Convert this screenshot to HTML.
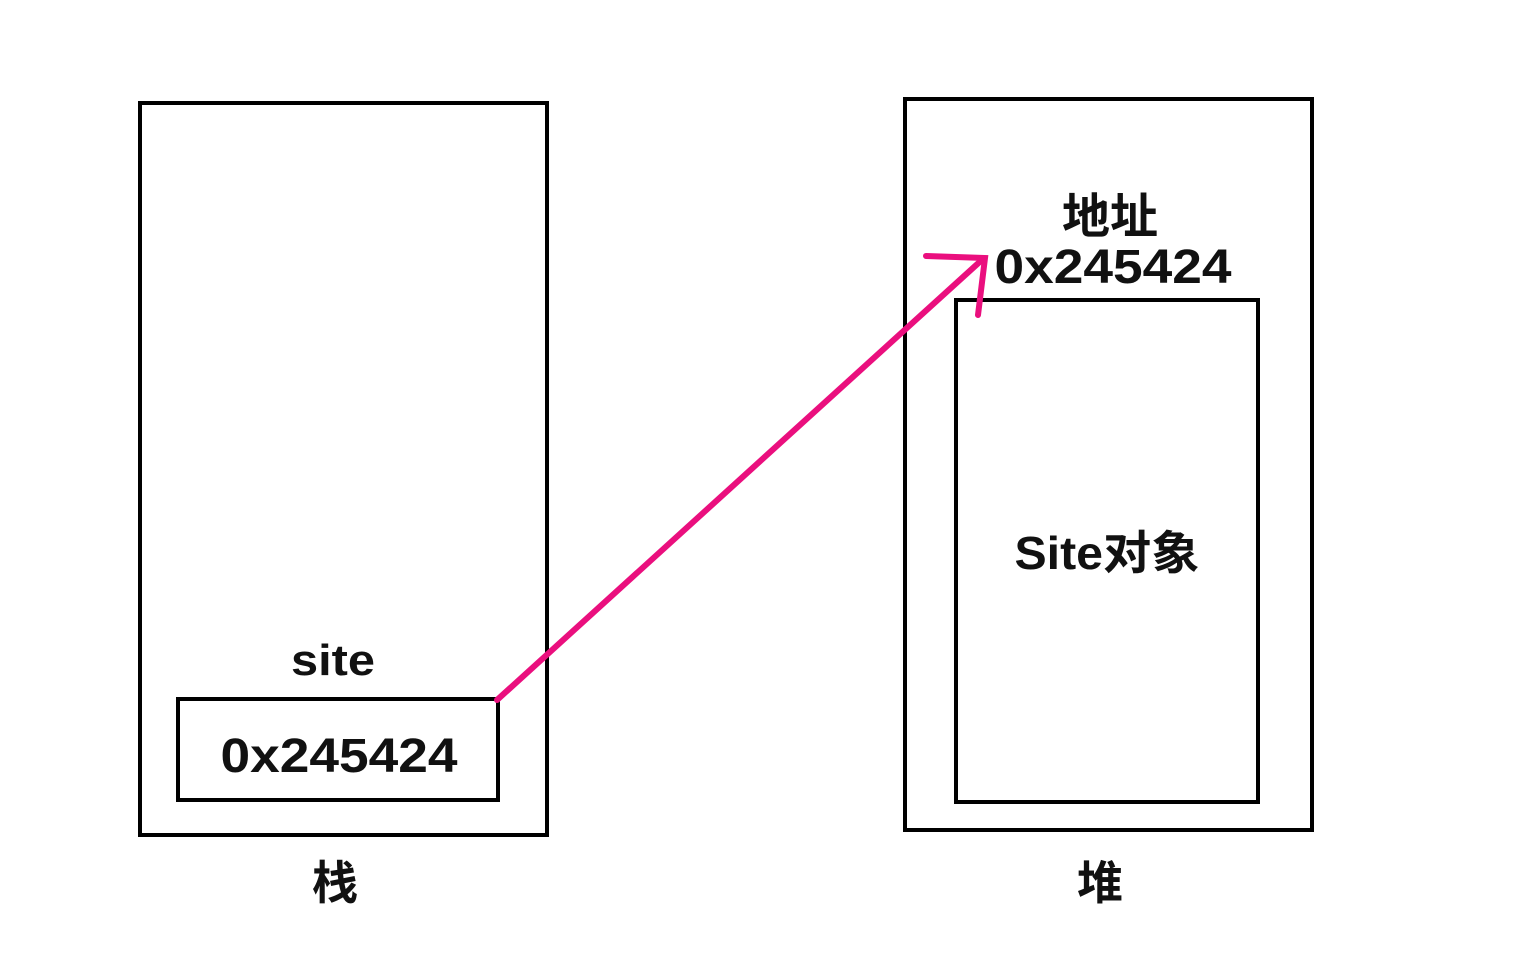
<!DOCTYPE html>
<html><head><meta charset="utf-8"><style>
body{margin:0;width:1536px;height:960px;background:#fff;overflow:hidden}
svg text{font-family:"Liberation Sans","Noto Sans CJK SC",sans-serif;font-weight:bold;fill:#111;text-anchor:middle}
</style></head><body>
<svg width="1536" height="960" xmlns="http://www.w3.org/2000/svg">
<g fill="none" stroke="#000" stroke-width="4">
<rect x="140" y="103" width="407" height="732"/>
<rect x="178" y="699" width="320" height="101"/>
<rect x="905" y="99" width="407" height="731"/>
<rect x="956" y="300" width="302" height="502"/>
</g>
<g stroke="#ea0f7e" stroke-width="6" stroke-linecap="round" fill="none">
<line x1="497" y1="700" x2="984" y2="258"/>
<polyline points="926,256 985,258 978,315"/>
</g>
<text x="333" y="675" font-size="44" textLength="84" lengthAdjust="spacingAndGlyphs">site</text>
<text x="339" y="772" font-size="48" textLength="237" lengthAdjust="spacingAndGlyphs">0x245424</text>
<text x="335" y="899" font-size="46">栈</text>
<text x="1100" y="899" font-size="46">堆</text>
<text x="1110" y="233" font-size="48">地址</text>
<text x="1113" y="283" font-size="48" textLength="237" lengthAdjust="spacingAndGlyphs">0x245424</text>
<text x="1107" y="569" font-size="46" textLength="185" lengthAdjust="spacingAndGlyphs">Site对象</text>
</svg>
</body></html>
